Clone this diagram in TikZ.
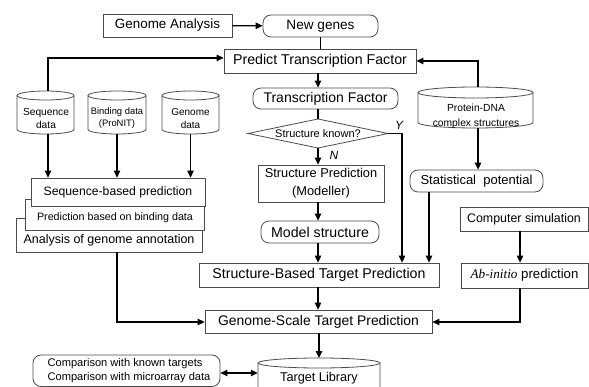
\documentclass[tikz,border=0pt]{standalone}
\usepackage{fontspec}
\setmainfont{Liberation Sans}
\newfontfamily\abfont{Liberation Serif}
\usetikzlibrary{arrows.meta}

\newcommand\fs[2]{\fontsize{#1}{#2}\selectfont}
% database drum: name, centre x, top y, bottom y, x radius, y radius of the ellipse
\newcommand\drum[6]{%
  \path[drumline, fill=white] (#2-#5,#3+#6) -- (#2-#5,#4-#6)
     arc[start angle=180, end angle=360, x radius=#5pt, y radius=#6pt]
     -- (#2+#5,#3+#6)
     arc[start angle=0, end angle=180, x radius=#5pt, y radius=#6pt] -- cycle;
  \path[drumline] (#2+#5,#3+#6)
     arc[start angle=0, end angle=-180, x radius=#5pt, y radius=#6pt];
  \node[inner sep=0pt, minimum width={2*#5pt}, minimum height={(#4-#3)*1pt}]
     (#1) at (#2,{(#3+#4)/2}) {};
}

\begin{document}
\begin{tikzpicture}[x=1pt, y=-1pt,
  box/.style={draw=black!70, line width=0.8pt, fill=white, inner sep=0pt, align=center},
  rbox/.style={box, rounded corners=8pt},
  drumline/.style={draw=black!70, line width=0.8pt},
  conn/.style={line width=1.3pt, black},
  arr/.style={conn, -{Triangle[length=7pt, width=6.5pt]}},
  dblarr/.style={conn, {Triangle[length=7pt, width=6.5pt]}-{Triangle[length=7pt, width=6.5pt]}},
  lbl/.style={inner sep=0pt, align=center},
]
\useasboundingbox (0,0) rectangle (589,387);
\clip (0,0) rectangle (589,387);

% ---- top row ----
\node[box, minimum width=129, minimum height=23, font=\fs{13.4}{16}] (ga) at (167.5,25.5) {Genome Analysis};
\node[rbox, minimum width=115, minimum height=22, font=\fs{13.6}{16}] (ng) at (320.5,26) {New genes};
\node[box, minimum width=192, minimum height=24, font=\fs{14.2}{16}] (ptf) at (320,61) {Predict Transcription Factor};

% ---- centre column ----
\node[rbox, minimum width=145, minimum height=21, font=\fs{14}{16}] (tf) at (325.5,98.5) {Transcription Factor};
\coordinate (skL) at (248,133.5);
\coordinate (skR) at (388,133.5);
\coordinate (skT) at (318,119);
\coordinate (skB) at (318,148);
\draw[draw=black!70, line width=0.8pt, fill=white] (skL) -- (skT) -- (skR) -- (skB) -- cycle;
\node[lbl, font=\fs{11}{13}] (sk) at (318,134) {Structure known?};
\node[lbl, font=\fs{12}{14}\itshape] (ylab) at (399,125) {Y};
\node[lbl, font=\fs{12}{14}\itshape] (nlab) at (334,155) {N};
\node[box, minimum width=126, minimum height=37, font=\fs{12.8}{18}] (sp) at (321,183.5) {Structure Prediction\\(Modeller)};
\node[rbox, minimum width=118, minimum height=22, font=\fs{14.2}{16}] (ms) at (320,232) {Model structure};
\node[box, minimum width=240, minimum height=24, font=\fs{14.2}{16}] (sbtp) at (319,275) {Structure-Based Target Prediction};
\node[box, minimum width=227, minimum height=23, font=\fs{13.9}{16}] (gstp) at (318.5,321.5) {Genome-Scale Target Prediction};

% ---- left column: data sources and stacked predictions ----
\drum{seq}{45.5}{91}{134}{28.5}{4.5}
\drum{bind}{117}{91}{134}{29}{4.5}
\drum{gen}{190.5}{91}{134}{28.5}{4.5}
\node[lbl, font=\fs{10.2}{13}] (seq-t) at (46,118.5) {Sequence\\data};
\node[lbl, font=\fs{9.4}{12}] (bind-t) at (117,118) {Binding data\\(ProNIT)};
\node[lbl, font=\fs{10}{13}] (gen-t) at (190.5,118.5) {Genome\\data};

\node[box, minimum width=186, minimum height=34] (aga) at (109,235) {};
\node[lbl, font=\fs{12.5}{14}] (aga-t) at (109,240) {Analysis of genome annotation};
\node[box, minimum width=179, minimum height=31] (pbbd) at (114.5,214.5) {};
\node[lbl, font=\fs{10.7}{13}] (pbbd-t) at (115,218) {Prediction based on binding data};
\node[box, minimum width=174, minimum height=28, font=\fs{12.2}{14}] (sbp) at (118,192) {Sequence-based prediction};

% ---- right column ----
\drum{pd}{475.5}{87}{128}{57.5}{5.5}
\node[lbl, font=\fs{10.3}{15}] (pd-t) at (476,116.5) {Protein-DNA\\complex structures};
\node[rbox, minimum width=133, minimum height=22, font=\fs{13}{16}] (stp) at (476.5,181) {Statistical\ \ potential};
\node[box, minimum width=128, minimum height=24, font=\fs{12.4}{16}] (cs) at (524,219) {Computer simulation};
\node[box, minimum width=127, minimum height=25, font=\fs{13.2}{16}] (ab) at (524.5,275.5) {{\abfont\itshape Ab-initio} prediction};

% ---- bottom row ----
\drum{tl}{319}{358}{420}{61}{5}
\node[lbl, font=\fs{12.7}{15}] (tl-t) at (319,378) {Target Library};
\node[rbox, minimum width=187, minimum height=31.5] (cmp) at (126.5,370.75) {};
\node[lbl, align=left, font=\fs{11.1}{14}] (cmp-t) at (129,371) {Comparison with known targets\\Comparison with microarray data};

% ---- connectors ----
\draw[arr] (ga) -- (ng);
\draw[conn] (ng) -- (ng.south |- ptf.north);
\draw[arr] ([xshift=2.5pt]seq.north) |- ([yshift=3pt]ptf.west);
\draw[arr] ([xshift=2.5pt]pd.north) |- (ptf.east);
\draw[arr] (ptf.south -| 318,0) -- (318,0 |- tf.north);
\draw[conn] (318,0 |- tf.south) -- (skT);
\draw[arr] (skB) -- (318,0 |- sp.north);
\coordinate (ybend) at (402,133.5);
\draw[arr] (skR) -- (ybend) -- (ybend |- sbtp.north);
\draw[arr] (318,0 |- sp.south) -- (318,0 |- ms.north);
\draw[arr] (318,0 |- ms.south) -- (318,0 |- sbtp.north);

\draw[arr] ([xshift=2.5pt]seq.south) -- ([xshift=2.5pt]seq.south |- sbp.north);
\draw[arr] (bind.south) -- (bind.south |- sbp.north);
\draw[arr] (gen.south) -- (gen.south |- sbp.north);
\coordinate (agaOut) at (117,252);
\draw[arr] (agaOut) |- ([yshift=-0.5pt]gstp.west);

\draw[arr] ([xshift=2.5pt]pd.south) -- ([xshift=2.5pt]pd.south |- stp.north);
\coordinate (stpOut) at (429,192);
\draw[arr] (stpOut) -- (stpOut |- sbtp.north);
\coordinate (csOut) at (520,231);
\draw[arr] (csOut) -- (csOut |- ab.north);
\coordinate (abOut) at (520,288);
\draw[arr] (abOut) |- ([yshift=-0.5pt]gstp.east);

\draw[arr] (318,0 |- sbtp.south) -- (318,0 |- gstp.north);
\draw[arr] (319,0 |- gstp.south) -- (319,358);
\draw[dblarr] (cmp.east |- 0,373) -- (tl.west |- 0,373);
\end{tikzpicture}
\end{document}
